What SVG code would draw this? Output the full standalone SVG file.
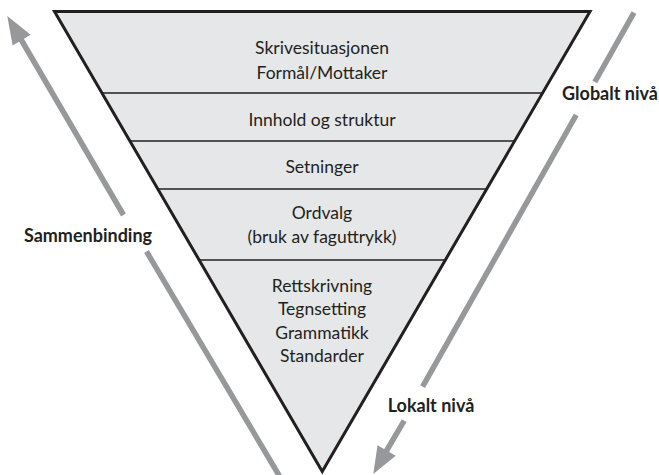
<svg xmlns="http://www.w3.org/2000/svg" width="659" height="475" viewBox="0 0 659 475">
<style>
.t{font-family:Lato,"Open Sans",sans-serif;font-size:17.5px;fill:#231f20;text-anchor:middle}
.b{font-family:Lato,"Open Sans",sans-serif;font-size:18px;font-weight:bold;fill:#231f20;text-anchor:middle}
.div{stroke:#231f20;stroke-width:1.5}
.arr{stroke:#97989b;stroke-width:5.5;fill:none}
.head{fill:#97989b}
</style>
<rect width="659" height="475" fill="#ffffff"/>
<g id="funnel">
<polygon points="54.5,11.5 590,11.5 322.25,471.5" fill="#e6e7e8"/>
<line class="div" x1="101.9" y1="93" x2="542.6" y2="93"/>
<line class="div" x1="129.8" y1="141" x2="514.7" y2="141"/>
<line class="div" x1="157.7" y1="189" x2="486.8" y2="189"/>
<line class="div" x1="199" y1="260" x2="445.5" y2="260"/>
<polygon points="54.5,11.5 590,11.5 322.25,471.5" fill="none" stroke="#231f20" stroke-width="3" stroke-linejoin="miter" stroke-miterlimit="10"/>
</g>
<g id="connectors">
<line class="arr" x1="19" y1="36" x2="123.5" y2="215"/>
<line class="arr" x1="146.5" y1="251.5" x2="279.4" y2="476"/>
<polygon class="head" points="7.3,16 30.6,34.7 12.6,45.4"/>
<line class="arr" x1="634" y1="12.7" x2="594.8" y2="82"/>
<line class="arr" x1="576.2" y1="115" x2="422.6" y2="386.7"/>
<line class="arr" x1="404.2" y1="420.7" x2="384" y2="455"/>
<polygon class="head" points="373.3,474 377.5,445.3 395.7,455.7"/>
</g>
<g id="n1"><text class="t" x="322" y="54">Skrivesituasjonen</text><text class="t" x="322" y="79">Formål/Mottaker</text></g>
<g id="n2"><text class="t" x="322" y="125.5">Innhold og struktur</text></g>
<g id="n3"><text class="t" x="322" y="173">Setninger</text></g>
<g id="n4"><text class="t" x="322" y="219">Ordvalg</text><text class="t" x="322" y="243">(bruk av faguttrykk)</text></g>
<g id="n5"><text class="t" x="322" y="291.5">Rettskrivning</text><text class="t" x="322" y="315">Tegnsetting</text><text class="t" x="322" y="338.5">Grammatikk</text><text class="t" x="322" y="361.5">Standarder</text></g>
<g id="l1"><text class="b" x="88" y="241.7">Sammenbinding</text></g>
<g id="l2"><text class="b" x="610" y="100">Globalt nivå</text></g>
<g id="l3"><text class="b" x="431" y="412">Lokalt nivå</text></g>
</svg>
